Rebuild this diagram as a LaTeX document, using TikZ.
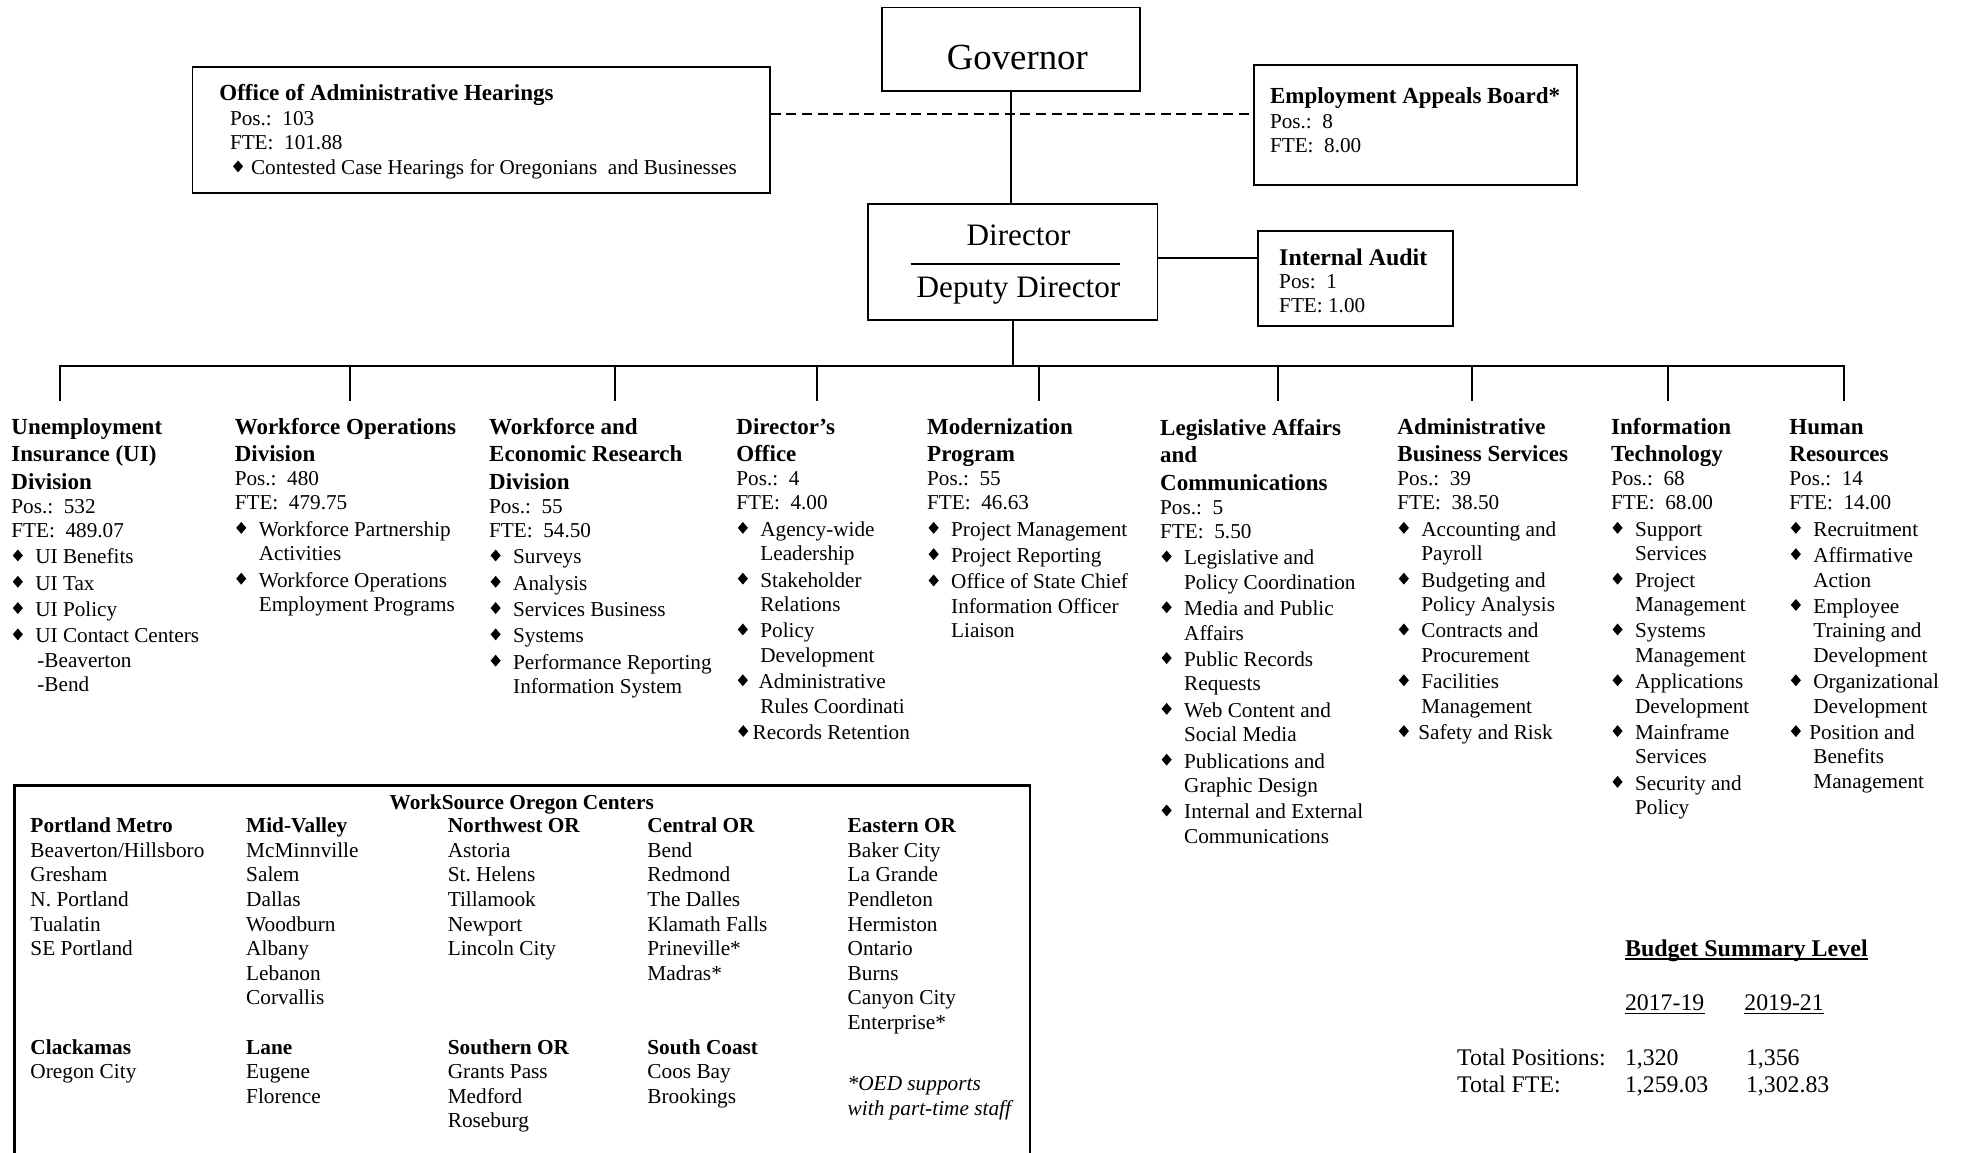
\documentclass[tikz,border=0pt]{standalone}
\usepackage{fontspec}
\setmainfont{Liberation Serif}
\usepackage{graphicx}
\usetikzlibrary{fit}
\frenchspacing
\newcommand\fbd{\fontsize{10.6}{12.25}\selectfont}
\newcommand\fhd{\fontsize{11.5}{14}\selectfont\bfseries}
\newcommand\fws{\fontsize{10.65}{12.3}\selectfont}
\newcommand\fbud{\fontsize{11.9}{14}\selectfont}
\newcommand\dmd{\raisebox{1.2pt}{\scalebox{0.85}[1]{\rotatebox{45}{\rule{4.2pt}{4.2pt}}}}}
\newcommand\HS{\baselineskip=13.8pt\relax\lineskiplimit=-\maxdimen\lineskip=0pt\relax}
\newcommand\HD[1]{\hbox{\fhd #1}}
\newcommand\PO[1]{\baselineskip=11.9pt\relax\hbox{#1}\baselineskip=12.25pt\relax}
\newcommand\TX[1]{\hbox{#1}}
\newcommand\BU[1]{\vskip0.9pt\relax\hbox{\makebox[12pt][l]{\hspace*{0.7pt}\dmd}#1}}
\newcommand\CT[1]{\hbox{\hspace*{12pt}#1}}
\newcommand\WL{\baselineskip=12.3pt\relax\lineskiplimit=-\maxdimen\lineskip=0pt\relax}
\begin{document}
\begin{tikzpicture}[x=0.5pt,y=-0.5pt,
  thinbox/.style={draw, line width=0.75pt, inner sep=0pt},
  thickbox/.style={draw, line width=1pt, inner sep=0pt},
  wsbox/.style={draw, line width=1.25pt, inner sep=0pt},
  txt/.style={inner sep=0pt, anchor=base west, font=\fbd},
  ctr/.style={inner sep=0pt, anchor=base},
  col/.style={inner sep=0pt, anchor=base west, font=\fbd},
  wscol/.style={inner sep=0pt, anchor=base west, font=\fws},
  conn/.style={line width=0.8pt},
  busln/.style={line width=1pt},
  dashln/.style={line width=0.95pt, dash pattern=on 5pt off 2.8pt}]
\fill[white] (0,0) rectangle (1961,1152);
\useasboundingbox (0,0) rectangle (1961,1152);

% ---- top boxes ----
\node[thinbox, fit={(882,7.5) (1140,91)}] (gov) {};
\node[ctr, font=\fontsize{18.4}{22}\selectfont] (govt) at (1017.3,69.5) {Governor};

\node[thinbox, fit={(192.6,67) (770,193)}] (oah) {};
\node[txt] (oaht) at (219,100.7) {\vtop{\baselineskip=12.2pt\relax\lineskiplimit=-\maxdimen
  \hbox{\fhd Office of Administrative Hearings}
  \hbox{\hspace*{5.3pt}Pos.:\ \ 103}
  \hbox{\hspace*{5.3pt}FTE:\ \ 101.88}
  \vskip0.4pt\hbox{\hspace*{6.8pt}\dmd\hspace{4pt}Contested Case Hearings for Oregonians\ \ and Businesses}}};

\node[thickbox, fit={(1253.7,64.7) (1576.6,184.7)}] (eab) {};
\node[txt] (eabt) at (1269.6,103.7) {\vtop{\baselineskip=12.25pt\relax\lineskiplimit=-\maxdimen
  \hbox{\fhd Employment Appeals Board*}
  \hbox{Pos.:\ \ 8}
  \hbox{FTE:\ \ 8.00}}};

\node[thinbox, fit={(868,204) (1157.5,320)}] (dir) {};
\node[ctr, font=\fontsize{15.6}{18}\selectfont] (dirt) at (1018.6,245) {Director};
\node[ctr, font=\fontsize{15.6}{18}\selectfont] (dept) at (1018.5,297) {Deputy Director};
\draw[line width=1pt] (910.7,264.3) -- (1120,264.3);

\node[thickbox, fit={(1258,230.7) (1453.4,326)}] (ia) {};
\node[txt] (iat) at (1278.8,265) {\vtop{\baselineskip=11.9pt\relax\lineskiplimit=-\maxdimen
  \hbox{\fontsize{11.95}{14}\selectfont\bfseries Internal Audit}
  \hbox{Pos:\ \ 1}
  \hbox{FTE: 1.00}}};

% ---- connectors ----
\coordinate (dashy) at (0,114.3);
\coordinate (iay) at (0,257.7);
\coordinate (busy) at (0,365.7);
\draw[dashln] (oah.east |- dashy) -- (eab.west |- dashy);
\draw[conn] (gov.south) -- (gov.south |- dir.north);
\draw[conn] (dir.east |- iay) -- (ia.west |- iay);
\draw[conn] (dir.south) -- (dir.south |- busy);

\coordinate (d1) at (59.8,401);
\coordinate (d2) at (350,401);
\coordinate (d3) at (615,401);
\coordinate (d4) at (816.5,401);
\coordinate (d5) at (1038.8,401);
\coordinate (d6) at (1277.5,401);
\coordinate (d7) at (1472.4,401);
\coordinate (d8) at (1668,401);
\coordinate (d9) at (1843.8,401);
\draw[busln] (d1) -- (d1 |- busy) -- (d9 |- busy) -- (d9);
\foreach \d in {d2,d3,d4,d5,d6,d7,d8} \draw[busln] (\d |- busy) -- (\d);

% ---- division columns ----
\node[col] (c1) at (11,434) {\vtop{\HS\HD{Unemployment}\HD{Insurance (UI)}\HD{Division}\PO{Pos.:\ \ 532}\TX{FTE:\ \ 489.07}\BU{UI Benefits}\BU{UI Tax}\BU{UI Policy}\BU{UI Contact Centers}\CT{\hspace*{1pt}-Beaverton}\CT{\hspace*{1pt}-Bend}}};

\node[col] (c2) at (234.4,434) {\vtop{\HS\HD{Workforce Operations}\HD{Division}\PO{Pos.:\ \ 480}\TX{FTE:\ \ 479.75}\BU{Workforce Partnership}\CT{Activities}\BU{Workforce Operations}\CT{Employment Programs}}};

\node[col] (c3) at (488.8,434) {\vtop{\HS\HD{Workforce and}\HD{Economic Research}\HD{Division}\PO{Pos.:\ \ 55}\TX{FTE:\ \ 54.50}\BU{Surveys}\BU{Analysis}\BU{Services Business}\BU{Systems}\BU{Performance Reporting}\CT{Information System}}};

\node[col] (c4) at (736,434) {\vtop{\HS\HD{Director’s}\HD{Office}\PO{Pos.:\ \ 4}\TX{FTE:\ \ 4.00}\BU{Agency-wide}\CT{Leadership}\BU{Stakeholder}\CT{Relations}\BU{Policy}\CT{Development}\BU{\hspace*{-0.9pt}Administrative}\CT{Rules Coordinati}\vskip0.9pt\relax\hbox{\hspace*{0.9pt}\dmd\hspace{2.2pt}Records Retention}}};

\node[col] (c5) at (926.8,434) {\vtop{\HS\HD{Modernization}\HD{Program}\PO{Pos.:\ \ 55}\TX{FTE:\ \ 46.63}\BU{Project Management}\BU{Project Reporting}\BU{Office of State Chief}\CT{Information Officer}\CT{Liaison}}};

\node[col] (c6) at (1159.8,435) {\vtop{\HS\HD{Legislative Affairs}\HD{and}\HD{Communications}\PO{Pos.:\ \ 5}\TX{FTE:\ \ 5.50}\BU{Legislative and}\CT{Policy Coordination}\BU{Media and Public}\CT{Affairs}\BU{Public Records}\CT{Requests}\BU{Web Content and}\CT{Social Media}\BU{Publications and}\CT{Graphic Design}\BU{Internal and External}\CT{Communications}}};

\node[col] (c7) at (1397,434) {\vtop{\HS\HD{Administrative}\HD{Business Services}\PO{Pos.:\ \ 39}\TX{FTE:\ \ 38.50}\BU{Accounting and}\CT{Payroll}\BU{Budgeting and}\CT{Policy Analysis}\BU{Contracts and}\CT{Procurement}\BU{Facilities}\CT{Management}\BU{\hspace*{-1.5pt}Safety and Risk}}};

\node[col] (c8) at (1610.7,434) {\vtop{\HS\HD{Information}\HD{Technology}\PO{Pos.:\ \ 68}\TX{FTE:\ \ 68.00}\BU{Support}\CT{Services}\BU{Project}\CT{Management}\BU{Systems}\CT{Management}\BU{Applications}\CT{Development}\BU{Mainframe}\CT{Services}\BU{Security and}\CT{Policy}}};

\node[col] (c9) at (1789,434) {\vtop{\HS\HD{Human}\HD{Resources}\PO{Pos.:\ \ 14}\TX{FTE:\ \ 14.00}\BU{Recruitment}\BU{Affirmative}\CT{Action}\BU{Employee}\CT{Training and}\CT{Development}\BU{Organizational}\CT{Development}\BU{\hspace*{-2pt}Position and}\CT{Benefits}\CT{Management}}};

% ---- WorkSource Oregon Centers ----
\begin{scope}
\clip (0,0) rectangle (1961,1152);
\node[wsbox, fit={(14.7,785.7) (1030,1200)}] (ws) {};
\end{scope}
\node[ctr, font=\fws\bfseries] (wst) at (521.8,809.3) {WorkSource Oregon Centers};
\node[wscol] (w1) at (30.1,832.7) {\vtop{\WL\hbox{\bfseries Portland Metro}\hbox{Beaverton/Hillsboro}\hbox{Gresham}\hbox{N. Portland}\hbox{Tualatin}\hbox{SE Portland}\hbox{}\hbox{}\hbox{}\hbox{\bfseries Clackamas}\hbox{Oregon City}}};
\node[wscol] (w2) at (245.8,832.7) {\vtop{\WL\hbox{\bfseries Mid-Valley}\hbox{McMinnville}\hbox{Salem}\hbox{Dallas}\hbox{Woodburn}\hbox{Albany}\hbox{Lebanon}\hbox{Corvallis}\hbox{}\hbox{\bfseries Lane}\hbox{Eugene}\hbox{Florence}}};
\node[wscol] (w3) at (447.4,832.7) {\vtop{\WL\hbox{\bfseries Northwest OR}\hbox{Astoria}\hbox{St. Helens}\hbox{Tillamook}\hbox{Newport}\hbox{Lincoln City}\hbox{}\hbox{}\hbox{}\hbox{\bfseries Southern OR}\hbox{Grants Pass}\hbox{Medford}\hbox{Roseburg}}};
\node[wscol] (w4) at (647,832.7) {\vtop{\WL\hbox{\bfseries Central OR}\hbox{Bend}\hbox{Redmond}\hbox{The Dalles}\hbox{Klamath Falls}\hbox{Prineville*}\hbox{Madras*}\hbox{}\hbox{}\hbox{\bfseries South Coast}\hbox{Coos Bay}\hbox{Brookings}}};
\node[wscol] (w5) at (847.3,832.7) {\vtop{\WL\hbox{\bfseries Eastern OR}\hbox{Baker City}\hbox{La Grande}\hbox{Pendleton}\hbox{Hermiston}\hbox{Ontario}\hbox{Burns}\hbox{Canyon City}\hbox{Enterprise*}}};
\node[wscol] (wnote) at (847.3,1090.3) {\vtop{\baselineskip=12.5pt\relax\lineskiplimit=-\maxdimen\itshape\hbox{*OED supports}\hbox{with part-time staff}}};

% ---- Budget summary ----
\node[txt, font=\fontsize{12}{14}\selectfont\bfseries] (bsl) at (1624.6,956) {Budget Summary Level};
\draw[line width=1pt] ([yshift=-1.4pt]bsl.base west) -- ([yshift=-1.4pt]bsl.base east);
\node[txt, font=\fbud] (y1) at (1624.6,1010.7) {2017-19};
\node[txt, font=\fbud] (y2) at (1744,1010.7) {2019-21};
\draw[line width=0.7pt] ([yshift=-1.3pt]y1.base west) -- ([yshift=-1.3pt]y1.base east);
\draw[line width=0.7pt] ([yshift=-1.3pt]y2.base west) -- ([yshift=-1.3pt]y2.base east);
\node[txt, font=\fbud] (tp) at (1456.8,1065.3) {Total Positions:};
\node[txt, font=\fbud] (tp1) at (1624.6,1065.3) {1,320};
\node[txt, font=\fbud] (tp2) at (1745.6,1065.3) {1,356};
\node[txt, font=\fbud] (tf) at (1456.8,1092.3) {Total FTE:};
\node[txt, font=\fbud] (tf1) at (1624.6,1092.3) {1,259.03};
\node[txt, font=\fbud] (tf2) at (1745.6,1092.3) {1,302.83};
\end{tikzpicture}
\end{document}
